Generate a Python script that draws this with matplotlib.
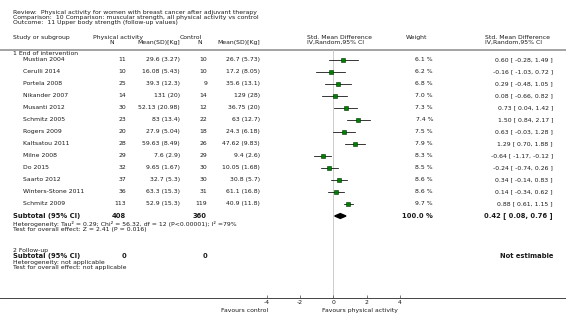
import matplotlib
matplotlib.use('Agg')
import matplotlib.pyplot as plt
import numpy as np

# study data
studies = ['Mustian 2004', 'Cerulli 2014', 'Portela 2008', 'Nikander 2007', 'Musanti 2012',
           'Schmitz 2005', 'Rogers 2009', 'Kaltsatou 2011', 'Milne 2008', 'Do 2015',
           'Saarto 2012', 'Winters-Stone 2011', 'Schmitz 2009']
pa_n = [11, 10, 25, 14, 30, 23, 20, 28, 29, 32, 37, 36, 113]
pa_mean = [29.6, 16.08, 39.3, 131, 52.13, 83, 27.9, 59.63, 7.6, 9.65, 32.7, 63.3, 52.9]
pa_sd = [3.27, 5.43, 12.3, 20, 20.98, 13.4, 5.04, 8.49, 2.9, 1.67, 5.3, 15.3, 15.3]
ct_n = [10, 10, 9, 14, 12, 22, 18, 26, 29, 30, 30, 31, 119]
ct_mean = [26.7, 17.2, 35.6, 129, 36.75, 63, 24.3, 47.62, 9.4, 10.05, 30.8, 61.1, 40.9]
ct_sd = [5.73, 8.05, 13.1, 28, 20, 12.7, 6.18, 9.83, 2.6, 1.68, 5.7, 16.8, 11.8]
weights = [6.1, 6.2, 6.8, 7.0, 7.3, 7.4, 7.5, 7.9, 8.3, 8.5, 8.6, 8.6, 9.7]
smd = [0.60, -0.16, 0.29, 0.08, 0.73, 1.50, 0.63, 1.29, -0.64, -0.24, 0.34, 0.14, 0.88]
ci_lo = [-0.28, -1.03, -0.48, -0.66, 0.04, 0.84, -0.03, 0.70, -1.17, -0.74, -0.14, -0.34, 0.61]
ci_hi = [1.49, 0.72, 1.05, 0.82, 1.42, 2.17, 1.28, 1.88, -0.12, 0.26, 0.83, 0.62, 1.15]

sub_pa_n, sub_ct_n = 408, 360
sub_weight = 100.0
sub_est, sub_lo, sub_hi = 0.42, 0.08, 0.76
x_ticks = [-4, -2, 0, 2, 4]

W, H = 566, 329
fs = 4.4
fsb = 4.9
tc = '#1a1a1a'

fig = plt.figure(figsize=(W / 100, H / 100), dpi=100)

# text layer in pixel coordinates
tx = fig.add_axes([0, 0, 1, 1])
tx.set_xlim(0, W)
tx.set_ylim(H, 0)
tx.axis('off')

# forest axes, bottom spine is the scale line
axis_y = 298
ax = fig.add_axes([0, (H - axis_y) / H, 1, axis_y / H])
ax.set_xlim(-20.0, 13.96)
ax.set_ylim(axis_y, 0)
ax.patch.set_alpha(0)
for s in ['top', 'left', 'right']:
    ax.spines[s].set_visible(False)
ax.spines['bottom'].set_color('#444444')
ax.spines['bottom'].set_linewidth(0.7)
ax.set_yticks([])
ax.set_xticks(x_ticks)
ax.set_xticklabels([str(t) for t in x_ticks])
ax.tick_params(axis='x', direction='in', length=2, width=0.5, pad=1.5,
               labelsize=fs, colors='#444444', labelcolor=tc)

def t(x, y, s, ha='left', bold=False):
    tx.text(x, y, s, ha=ha, va='center', fontsize=fsb if bold else fs,
            fontweight='bold' if bold else 'normal', color=tc)

# title block
t(13, 12.7, 'Review:  Physical activity for women with breast cancer after adjuvant therapy')
t(13, 17.6, 'Comparison:  10 Comparison: muscular strength, all physical activity vs control')
t(13, 22.5, 'Outcome:  11 Upper body strength (follow-up values)')

# column headers
hy1, hy2 = 37.5, 42.5
t(13, hy1, 'Study or subgroup')
t(93, hy1, 'Physical activity')
t(112, hy2, 'N', ha='center')
t(180, hy2, 'Mean(SD)[Kg]', ha='right')
t(180, hy1, 'Control')
t(200, hy2, 'N', ha='center')
t(260, hy2, 'Mean(SD)[Kg]', ha='right')
t(307, hy1, 'Std. Mean Difference')
t(307, hy2, 'IV,Random,95% CI')
t(406, hy1, 'Weight')
t(485, hy1, 'Std. Mean Difference')
t(485, hy2, 'IV,Random,95% CI')
tx.plot([0, W], [49.5, 49.5], color='#8a8a8a', lw=1.1)

# null line
ax.plot([0, 0], [50, axis_y], color='#c4c4c4', lw=0.6, zorder=1)

t(13, 53.5, '1 End of intervention')
row_y = [59.5 + 12 * i for i in range(len(studies))]
for i, y in enumerate(row_y):
    t(23, y, studies[i])
    t(126, y, str(pa_n[i]), ha='right')
    t(180, y, '%g (%g)' % (pa_mean[i], pa_sd[i]), ha='right')
    t(207, y, str(ct_n[i]), ha='right')
    t(260, y, '%g (%g)' % (ct_mean[i], ct_sd[i]), ha='right')
    t(433, y, '%.1f %%' % weights[i], ha='right')
    t(553, y, '%.2f [ %.2f, %.2f ]' % (smd[i], ci_lo[i], ci_hi[i]), ha='right')
    ax.plot([ci_lo[i], ci_hi[i]], [y, y], color='black', lw=0.55, zorder=2)
    ax.plot(smd[i], y, marker='s', color='#008000', mec='#003000', mew=0.4,
            ms=2.4 * np.sqrt(weights[i] / 6.1), zorder=3)

# subtotal
sy = 216
t(13, sy, 'Subtotal (95% CI)', bold=True)
t(126, sy, str(sub_pa_n), ha='right', bold=True)
t(207, sy, str(sub_ct_n), ha='right', bold=True)
t(433, sy, '%.1f %%' % sub_weight, ha='right', bold=True)
t(553, sy, '%.2f [ %.2f, %.2f ]' % (sub_est, sub_lo, sub_hi), ha='right', bold=True)
ax.fill([sub_lo, sub_est, sub_hi, sub_est], [sy, sy - 2.4, sy, sy + 2.4],
        color='black', zorder=3)
t(13, 224.3, 'Heterogeneity: Tau\u00b2 = 0.29; Chi\u00b2 = 56.32, df = 12 (P<0.00001); I\u00b2 =79%')
t(13, 229.8, 'Test for overall effect: Z = 2.41 (P = 0.016)')

# follow-up subgroup
t(13, 250.8, '2 Follow-up')
t(13, 256.3, 'Subtotal (95% CI)', bold=True)
t(126, 256.3, '0', ha='right', bold=True)
t(207, 256.3, '0', ha='right', bold=True)
t(553, 256.3, 'Not estimable', ha='right', bold=True)
t(13, 262.3, 'Heterogeneity: not applicable')
t(13, 267.8, 'Test for overall effect: not applicable')

# favours labels
t(268, 310.5, 'Favours control', ha='right')
t(322, 310.5, 'Favours physical activity')

fig.savefig('out.png', dpi=100)
